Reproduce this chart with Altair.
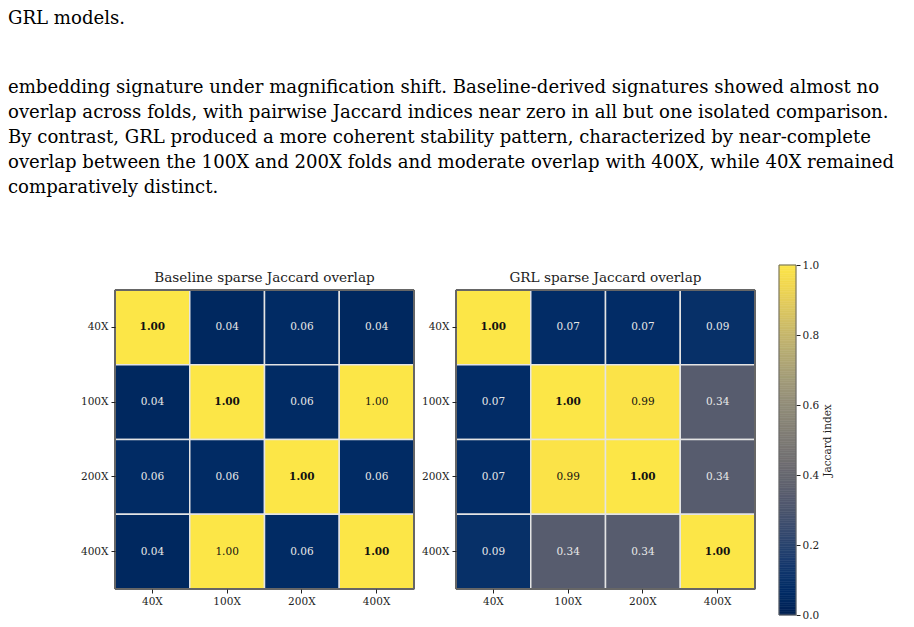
import altair as alt
import pandas as pd
import numpy as np

folds = ["40X", "100X", "200X", "400X"]
baseline_vals = [
    [1.00, 0.04, 0.06, 0.04],
    [0.04, 1.00, 0.06, 1.00],
    [0.06, 0.06, 1.00, 0.06],
    [0.04, 1.00, 0.06, 1.00],
]
grl_vals = [
    [1.00, 0.07, 0.07, 0.09],
    [0.07, 1.00, 0.99, 0.34],
    [0.07, 0.99, 1.00, 0.34],
    [0.09, 0.34, 0.34, 1.00],
]
colorbar_ticks = [0.0, 0.2, 0.4, 0.6, 0.8, 1.0]
panel_titles = ["Baseline sparse Jaccard overlap", "GRL sparse Jaccard overlap"]
colorbar_title = "Jaccard index"
title_line = "GRL models."
paragraph_lines = [
    "embedding signature under magnification shift.  Baseline-derived signatures showed almost no",
    "overlap across folds, with pairwise Jaccard indices near zero in all but one isolated comparison.",
    "By contrast, GRL produced a more coherent stability pattern, characterized by near-complete",
    "overlap between the 100X and 200X folds and moderate overlap with 400X, while 40X remained",
    "comparatively distinct.",
]

SERIF = "DejaVu Serif"
DOC = "DejaVu Serif"
color_scale = alt.Scale(scheme="cividis", domain=[0, 1])


def to_df(mat):
    rows = []
    for i, r in enumerate(folds):
        for j, c in enumerate(folds):
            rows.append({"row": r, "col": c, "value": mat[i][j],
                         "diag": i == j, "label": f"{mat[i][j]:.2f}"})
    return pd.DataFrame(rows)


def axis_common():
    return dict(title=None, domain=False, ticks=True, tickSize=4, tickColor="#222",
                labelFont=SERIF, labelFontSize=10.5, labelColor="#222", labelPadding=3)


def heatmap(mat, title):
    df = to_df(mat)
    base = alt.Chart(df).encode(
        x=alt.X("col:N", sort=folds,
                scale=alt.Scale(paddingInner=0, paddingOuter=0),
                axis=alt.Axis(labelAngle=0, **axis_common())),
        y=alt.Y("row:N", sort=folds,
                scale=alt.Scale(paddingInner=0, paddingOuter=0),
                axis=alt.Axis(**axis_common())),
    )
    rect = base.mark_rect(stroke="#e4e4e4", strokeWidth=1.5).encode(
        color=alt.Color("value:Q", scale=color_scale, legend=None)
    )
    txt_color = alt.condition("datum.value > 0.5", alt.value("#111111"), alt.value("#e8e8e8"))
    text_off = base.transform_filter("!datum.diag").mark_text(
        font=SERIF, fontSize=10.5).encode(text="label:N", color=txt_color)
    text_diag = base.transform_filter("datum.diag").mark_text(
        font=SERIF, fontSize=10.5, fontWeight="bold").encode(text="label:N", color=txt_color)
    frame = base.mark_rect(filled=False, stroke="#666666", strokeWidth=1).encode(
        x=alt.value(0), x2=alt.value("width"), y=alt.value(0), y2=alt.value("height")
    )
    return alt.layer(rect, text_off, text_diag, frame).properties(
        width=299, height=299,
        title=alt.TitleParams(title, font=SERIF, fontSize=13.6, fontWeight="normal",
                              color="#222", offset=5),
    )


left = heatmap(baseline_vals, panel_titles[0])
right = heatmap(grl_vals, panel_titles[1])

cb_df = pd.DataFrame({"v": np.linspace(0, 1, 201)[:-1]})
cb_df["v2"] = cb_df["v"] + 0.005
cb_scale = alt.Scale(domain=[0, 1], nice=False, range=[325, -25])
cb_bar = alt.Chart(cb_df).mark_rect(strokeWidth=0.6).encode(
    y=alt.Y("v:Q", scale=cb_scale,
            axis=alt.Axis(orient="right", values=colorbar_ticks, format=".1f",
                          title=colorbar_title, titleAngle=270, titleBaseline="top",
                          titleFont=SERIF, titleFontSize=10.5, titleFontWeight="normal",
                          titleColor="#222", titlePadding=4, domain=False, grid=False,
                          tickSize=4, tickColor="#222", labelFont=SERIF, labelFontSize=10.5,
                          labelColor="#222", labelPadding=2)),
    y2="v2",
    color=alt.Color("v:Q", scale=color_scale, legend=None),
    stroke=alt.Stroke("v:Q", scale=color_scale, legend=None),
)
cb_frame = alt.Chart(pd.DataFrame({"a": [0.0], "b": [1.0]})).mark_rect(
    filled=False, stroke="#666666", strokeWidth=1
).encode(y=alt.Y("a:Q", scale=cb_scale), y2="b:Q")
colorbar = alt.layer(cb_bar, cb_frame).properties(
    width=17, height=325, view=alt.ViewBackground(stroke=None)
)

chart = alt.hconcat(
    alt.hconcat(left, right, spacing=4),
    colorbar,
    spacing=21,
).properties(
    title=alt.TitleParams(
        text=title_line, subtitle=paragraph_lines, anchor="start", dx=-72,
        font=DOC, fontSize=18.1, fontWeight="normal", color="#000",
        subtitleFont=DOC, subtitleFontSize=18.1, subtitleColor="#000",
        subtitleLineHeight=25, subtitlePadding=51, offset=63,
    ),
    padding={"left": 7, "top": 9, "right": 0, "bottom": 0},
    background="white",
).configure_view(stroke="#666666", strokeWidth=1)

chart.save("out.html", embed_options={"renderer": "svg", "actions": False})
